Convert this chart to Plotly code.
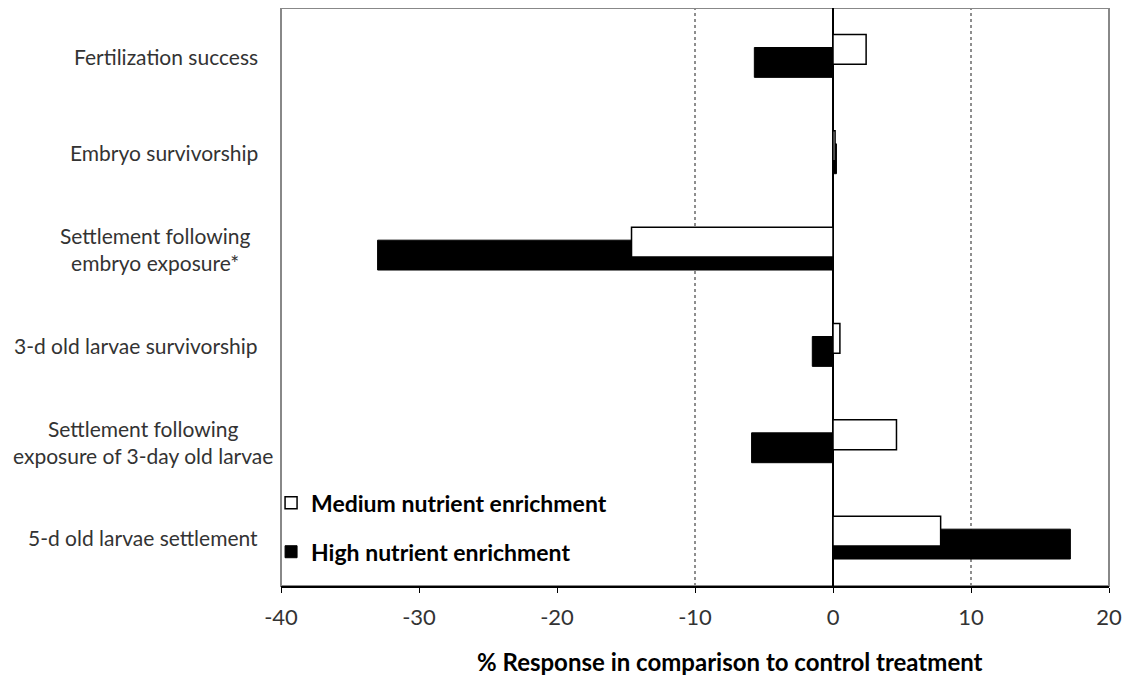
import plotly.graph_objects as go

categories = [
    "Fertilization success",
    "Embryo survivorship",
    "Settlement following<br>embryo exposure*",
    "3-d old larvae survivorship",
    "Settlement following<br>exposure of 3-day old larvae",
    "5-d old larvae settlement",
]
medium = [2.4, 0.15, -14.6, 0.5, 4.6, 7.8]
high = [-5.7, 0.25, -33.0, -1.5, -5.9, 17.2]
x_ticks = [-40, -30, -20, -10, 0, 10, 20]

FONT = "Lato"
GREY = "#333333"

fig = go.Figure()
fig.add_trace(go.Bar(
    y=categories, x=high, orientation="h", name="High nutrient enrichment",
    marker=dict(color="black", line=dict(color="black", width=1)),
    width=0.31, offset=-0.09, legendgroup="h", legendrank=2,
))
fig.add_trace(go.Bar(
    y=categories, x=medium, orientation="h", name="Medium nutrient enrichment",
    marker=dict(color="white", line=dict(color="black", width=1.5)),
    width=0.31, offset=-0.225, legendgroup="m", legendrank=1,
))

# dotted reference lines
for v in (-10, 10):
    fig.add_shape(type="line", xref="x", yref="paper", x0=v, x1=v, y0=0, y1=1,
                  line=dict(color="#444", width=1.2, dash="dot"), layer="below")
# frame
fig.add_shape(type="rect", xref="paper", yref="paper", x0=0, x1=1, y0=0, y1=1,
              line=dict(color="#888", width=2), layer="below")

# category labels (centred multi-line text, as in the original)
label_shift = {2: -29, 4: -6}
for i, c in enumerate(categories):
    fig.add_annotation(xref="paper", yref="y", x=0, y=c, xshift=label_shift.get(i, -21),
                       xanchor="right", align="center", text=c, showarrow=False,
                       font=dict(family=FONT, size=21, color=GREY))

# x-axis title
fig.add_annotation(xref="paper", yref="paper", x=0.542, y=0, yshift=-75,
                   xanchor="center", yanchor="middle", showarrow=False,
                   text="% Response in comparison to control treatment",
                   font=dict(family=FONT, size=24, color="black", weight="bold"))

fig.update_layout(
    width=1115, height=670,
    margin=dict(l=273, r=14, t=0, b=92),
    paper_bgcolor="white", plot_bgcolor="white",
    barmode="overlay",
    font=dict(family=FONT, size=20, color=GREY),
    showlegend=True,
    legend=dict(x=-0.012, y=0.181, xanchor="left", yanchor="top",
                traceorder="grouped", tracegroupgap=16,
                bgcolor="rgba(0,0,0,0)",
                font=dict(family=FONT, size=23, color="black", weight="bold"),
                itemwidth=30),
    xaxis=dict(range=[-40, 20], tickvals=x_ticks, ticktext=[str(v) for v in x_ticks],
               showgrid=False, zeroline=True, zerolinecolor="black", zerolinewidth=1.5,
               showline=True, linecolor="black", linewidth=1.5,
               ticks="outside", ticklen=5, tickcolor="black",
               ticklabelstandoff=6,
               tickfont=dict(family=FONT, size=22, color=GREY)),
    yaxis=dict(categoryorder="array", categoryarray=categories, autorange="reversed",
               range=[5.5, -0.5], showticklabels=False, showgrid=False,
               showline=False, ticks=""),
)

fig.write_html("out.html")
